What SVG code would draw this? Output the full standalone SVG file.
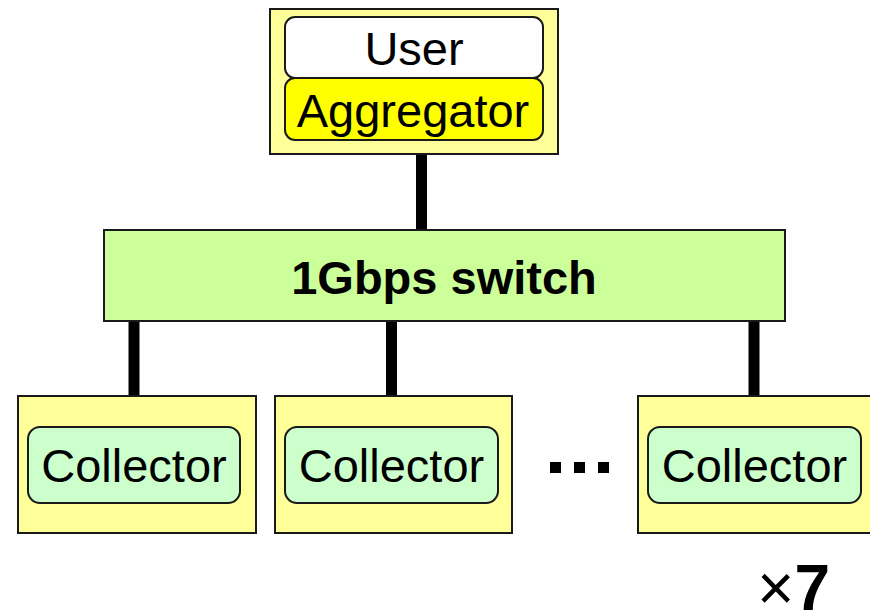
<svg xmlns="http://www.w3.org/2000/svg" width="870" height="611" viewBox="0 0 870 611">
  <style>
    .host { fill: #FFFF99; stroke: #1a1a1a; stroke-width: 2; }
    .role { stroke: #1a1a1a; stroke-width: 2; }
    .label { font-family: "Liberation Sans", Arial, sans-serif; font-size: 47px; fill: #000; text-anchor: middle; }
    .bold { font-weight: bold; }
    .link { stroke: #000; stroke-width: 11; fill: none; }
  </style>

  <!-- wiring between machines -->
  <g id="connectors">
    <line class="link" x1="421.5" y1="155" x2="421.5" y2="231"/>
    <line class="link" x1="134" y1="321" x2="134" y2="397"/>
    <line class="link" x1="391.5" y1="321" x2="391.5" y2="397"/>
    <line class="link" x1="754" y1="321" x2="754" y2="397"/>
  </g>

  <!-- front-end machine running the user process and the aggregator -->
  <g id="frontend">
    <rect class="host" x="270" y="9" width="288" height="145"/>
    <rect class="role" x="285" y="17" width="258" height="61" rx="10" fill="#FFFFFF"/>
    <text class="label" x="414" y="65">User</text>
    <rect class="role" x="285" y="78" width="258" height="62" rx="10" fill="#FFFF00"/>
    <text class="label" x="413" y="127">Aggregator</text>
  </g>

  <!-- network switch -->
  <g id="switch">
    <rect class="host" x="104" y="230" width="681" height="91" fill="#CCFF99" style="fill:#CCFF99"/>
    <text class="label bold" x="444" y="294">1Gbps switch</text>
  </g>

  <!-- collector machines -->
  <g id="collector1">
    <rect class="host" x="18" y="396" width="238" height="137"/>
    <rect class="role" x="28" y="427" width="212" height="76" rx="12" fill="#CCFFCC"/>
    <text class="label" x="134" y="482">Collector</text>
  </g>
  <g id="collector2">
    <rect class="host" x="275" y="396" width="237" height="137"/>
    <rect class="role" x="285" y="427" width="213" height="76" rx="12" fill="#CCFFCC"/>
    <text class="label" x="391.5" y="482">Collector</text>
  </g>
  <g id="ellipsis">
    <rect x="550" y="462" width="11" height="11" fill="#000"/>
    <rect x="574" y="462" width="11" height="11" fill="#000"/>
    <rect x="598" y="462" width="11" height="11" fill="#000"/>
  </g>
  <g id="collector7">
    <rect class="host" x="638" y="396" width="240" height="137"/>
    <rect class="role" x="648" y="427" width="213" height="76" rx="12" fill="#CCFFCC"/>
    <text class="label" x="754.5" y="482">Collector</text>
  </g>

  <!-- replication count -->
  <text x="757" y="610" font-family="Liberation Sans, Arial, sans-serif" font-size="64" fill="#000">×<tspan font-weight="bold">7</tspan></text>
</svg>
